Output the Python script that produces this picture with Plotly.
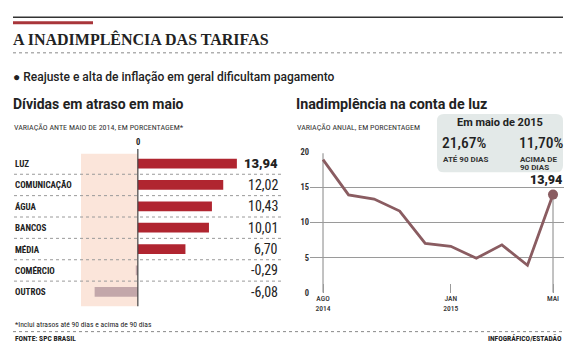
import plotly.graph_objects as go

# The page body has an 8px margin, so the figure is offset by 8px.
OFF = 8
W, H = 579 - OFF, 358 - OFF

# ---- data ----
categories = ["LUZ", "COMUNICAÇÃO", "ÁGUA", "BANCOS", "MÉDIA", "COMÉRCIO", "OUTROS"]
bar_values = [13.94, 12.02, 10.43, 10.01, 6.70, -0.29, -6.08]
bar_labels = ["13,94", "12,02", "10,43", "10,01", "6,70", "-0,29", "-6,08"]

months = [0, 1, 2, 3, 4, 5, 6, 7, 8, 9]
luz_values = [18.9, 13.9, 13.3, 11.6, 7.0, 6.6, 4.9, 6.8, 3.9, 13.94]
month_tickvals = [0, 5, 9]
month_ticktext = ["AGO<br>2014", "JAN<br>2015", "MAI"]
y_ticks = [0, 5, 10, 15, 20]


def px(x):
    return (x - OFF) / W


def py(y):
    return 1 - (y - OFF) / H


NARROW = "Roboto Condensed, DejaVu Sans Condensed, sans-serif"
SANS = "Roboto, Noto Sans, sans-serif"
RED = "#b02530"
NEG = "#c3a7aa"
LINEC = "#8a5c61"
DARK = "#222222"

fig = go.Figure()

bar_colors = [RED if v > 0 else NEG for v in bar_values]
fig.add_trace(go.Bar(
    x=bar_values, y=categories, orientation="h",
    marker=dict(color=bar_colors, line=dict(width=0)),
    width=0.46, xaxis="x", yaxis="y", hoverinfo="skip",
))

fig.add_trace(go.Scatter(
    x=months, y=luz_values, mode="lines",
    line=dict(color=LINEC, width=2.8), xaxis="x2", yaxis="y2", hoverinfo="skip",
))
fig.add_trace(go.Scatter(
    x=[months[-1]], y=[luz_values[-1]], mode="markers",
    marker=dict(color=LINEC, size=10), xaxis="x2", yaxis="y2", hoverinfo="skip",
))

shapes = []
annotations = []

# top rules
shapes.append(dict(type="line", xref="paper", yref="paper", x0=px(13), x1=px(563), y0=py(12.5), y1=py(12.5),
                   line=dict(color="#333333", width=1.5)))
shapes.append(dict(type="line", xref="paper", yref="paper", x0=px(13), x1=px(93), y0=py(18), y1=py(18),
                   line=dict(color="#a8353a", width=3)))
shapes.append(dict(type="line", xref="paper", yref="paper", x0=px(13), x1=px(563), y0=py(49), y1=py(49),
                   line=dict(color="#888888", width=1, dash="dot")))

# shaded negative region
shapes.append(dict(type="rect", xref="x", yref="paper", x0=-8.0, x1=0, y0=py(310), y1=py(153),
                   fillcolor="#fbe5da", line=dict(width=0), layer="below"))
# zero line
shapes.append(dict(type="line", xref="x", yref="paper", x0=0, x1=0, y0=py(310), y1=py(148),
                   line=dict(color="#444444", width=1.2)))
# dotted separators
for yy in [174, 196, 218, 240, 262, 284]:
    shapes.append(dict(type="line", xref="paper", yref="paper", x0=px(14), x1=px(281), y0=py(yy), y1=py(yy),
                       line=dict(color="#9a9a9a", width=1, dash="dot"), layer="below"))

# line chart vertical lines
shapes.append(dict(type="line", xref="x2", yref="y2", x0=0, x1=0, y0=0, y1=19.8,
                   line=dict(color="#9a9a9a", width=1.2), layer="below"))
shapes.append(dict(type="line", xref="x2", yref="y2", x0=9, x1=9, y0=0, y1=luz_values[-1],
                   line=dict(color="#9a9a9a", width=1.2), layer="below"))

# info box (rounded)
bx0, bx1, by0, by1, r = 437, 563, 112, 172, 7
path = (f"M {px(bx0 + r)},{py(by0)} L {px(bx1 - r)},{py(by0)} Q {px(bx1)},{py(by0)} {px(bx1)},{py(by0 + r)} "
        f"L {px(bx1)},{py(by1 - r)} Q {px(bx1)},{py(by1)} {px(bx1 - r)},{py(by1)} "
        f"L {px(bx0 + r)},{py(by1)} Q {px(bx0)},{py(by1)} {px(bx0)},{py(by1 - r)} "
        f"L {px(bx0)},{py(by0 + r)} Q {px(bx0)},{py(by0)} {px(bx0 + r)},{py(by0)} Z")
shapes.append(dict(type="path", xref="paper", yref="paper", path=path,
                   fillcolor="#e3e9e8", line=dict(width=0), layer="above"))

# footer dotted line
shapes.append(dict(type="line", xref="paper", yref="paper", x0=px(13), x1=px(563), y0=py(336), y1=py(336),
                   line=dict(color="#888888", width=1, dash="dot")))


def txt(x, y, s, size, family=SANS, color=DARK, xanchor="left", weight="normal", yanchor="middle"):
    annotations.append(dict(x=px(x), y=py(y), xref="paper", yref="paper", text=s, showarrow=False,
                            xanchor=xanchor, yanchor=yanchor,
                            font=dict(size=size, family=family, color=color, weight=weight)))


txt(11, 35, "A INADIMPLÊNCIA DAS TARIFAS", 16, family="Liberation Serif, DejaVu Serif, serif", weight="bold")
txt(11, 74, "● Reajuste e alta de inflação em geral dificultam pagamento", 12, weight=500)
txt(11, 102, "Dívidas em atraso em maio", 14, weight="bold")
txt(294, 102, "Inadimplência na conta de luz", 14.3, weight="bold")
txt(12, 126, "VARIAÇÃO ANTE MAIO DE 2014, EM PORCENTAGEM*", 8, family=NARROW, color="#333333")
txt(295, 126, "VARIAÇÃO ANUAL, EM PORCENTAGEM", 8, family=NARROW, color="#333333")
txt(138, 141, "0", 8.5, family=NARROW, xanchor="center", weight="bold")

# category labels & value labels
for i, (c, lab) in enumerate(zip(categories, bar_labels)):
    annotations.append(dict(x=px(13), y=c, xref="paper", yref="y", text=c, showarrow=False,
                            xanchor="left", yanchor="middle",
                            font=dict(size=9, family=NARROW, color=DARK, weight="bold")))
    annotations.append(dict(x=px(280), y=c, xref="paper", yref="y", text=lab, showarrow=False,
                            xanchor="right", yanchor="middle",
                            font=dict(size=13 if i == 0 else 14, family=SANS if i == 0 else NARROW,
                                      color=DARK, weight=900 if i == 0 else "normal")))

# box text
txt(500, 121, "Em maio de 2015", 11, xanchor="center", weight="bold")
txt(440, 142, "21,67%", 15.5, family=NARROW, weight=500)
txt(517, 142, "11,70%", 15.5, family=NARROW, weight=500)
txt(441, 159, "ATÉ 90 DIAS", 8, weight="bold", color="#333333")
txt(518, 159, "ACIMA DE", 8, weight="bold", color="#333333")
txt(518, 167, "90 DIAS", 8, weight="bold", color="#333333")

# 13,94 label on line
annotations.append(dict(x=months[-1], y=luz_values[-1], xref="x2", yref="y2", text="13,94", showarrow=False,
                        xanchor="right", yanchor="bottom", xshift=11, yshift=6,
                        font=dict(size=12.5, family=SANS, color=DARK, weight=900)))

# footer
txt(13, 329, "*Inclui atrasos até 90 dias e acima de 90 dias", 7.6, family=NARROW, color="#222222")
txt(13, 343, "FONTE: SPC BRASIL", 7.5, family=NARROW, weight="bold")
txt(564, 343, "INFOGRÁFICO/ESTADÃO", 7.5, family=NARROW, weight="bold", xanchor="right")

fig.update_layout(
    width=W, height=H, margin=dict(l=0, r=0, t=0, b=0),
    paper_bgcolor="white", plot_bgcolor="rgba(0,0,0,0)",
    showlegend=False, bargap=0.5,
    shapes=shapes, annotations=annotations,
    xaxis=dict(domain=[px(81), px(281)], range=[-8.0, 20.15], visible=False, fixedrange=True),
    yaxis=dict(domain=[py(306), py(152)], range=[6.5, -0.5], visible=False, type="category",
               categoryorder="array", categoryarray=categories),
    xaxis2=dict(domain=[px(310), px(564)], range=[-0.509, 9.43], anchor="y2",
                tickvals=month_tickvals, ticktext=month_ticktext, showgrid=False, zeroline=False,
                showline=False, ticks="inside", ticklen=9, tickcolor="#9a9a9a", tickwidth=1.2,
                tickfont=dict(size=7.5, family=NARROW, color="#333333", weight=500), ticklabelstandoff=0),
    yaxis2=dict(domain=[py(296), py(151)], range=[0, 20], anchor="x2", tickvals=y_ticks,
                showgrid=True, gridcolor="#9a9a9a", gridwidth=1.2, zeroline=False, showline=False,
                tickfont=dict(size=8.5, family=NARROW, color="#333333", weight="bold"), ticks=""),
)

fig.write_html("out.html")
